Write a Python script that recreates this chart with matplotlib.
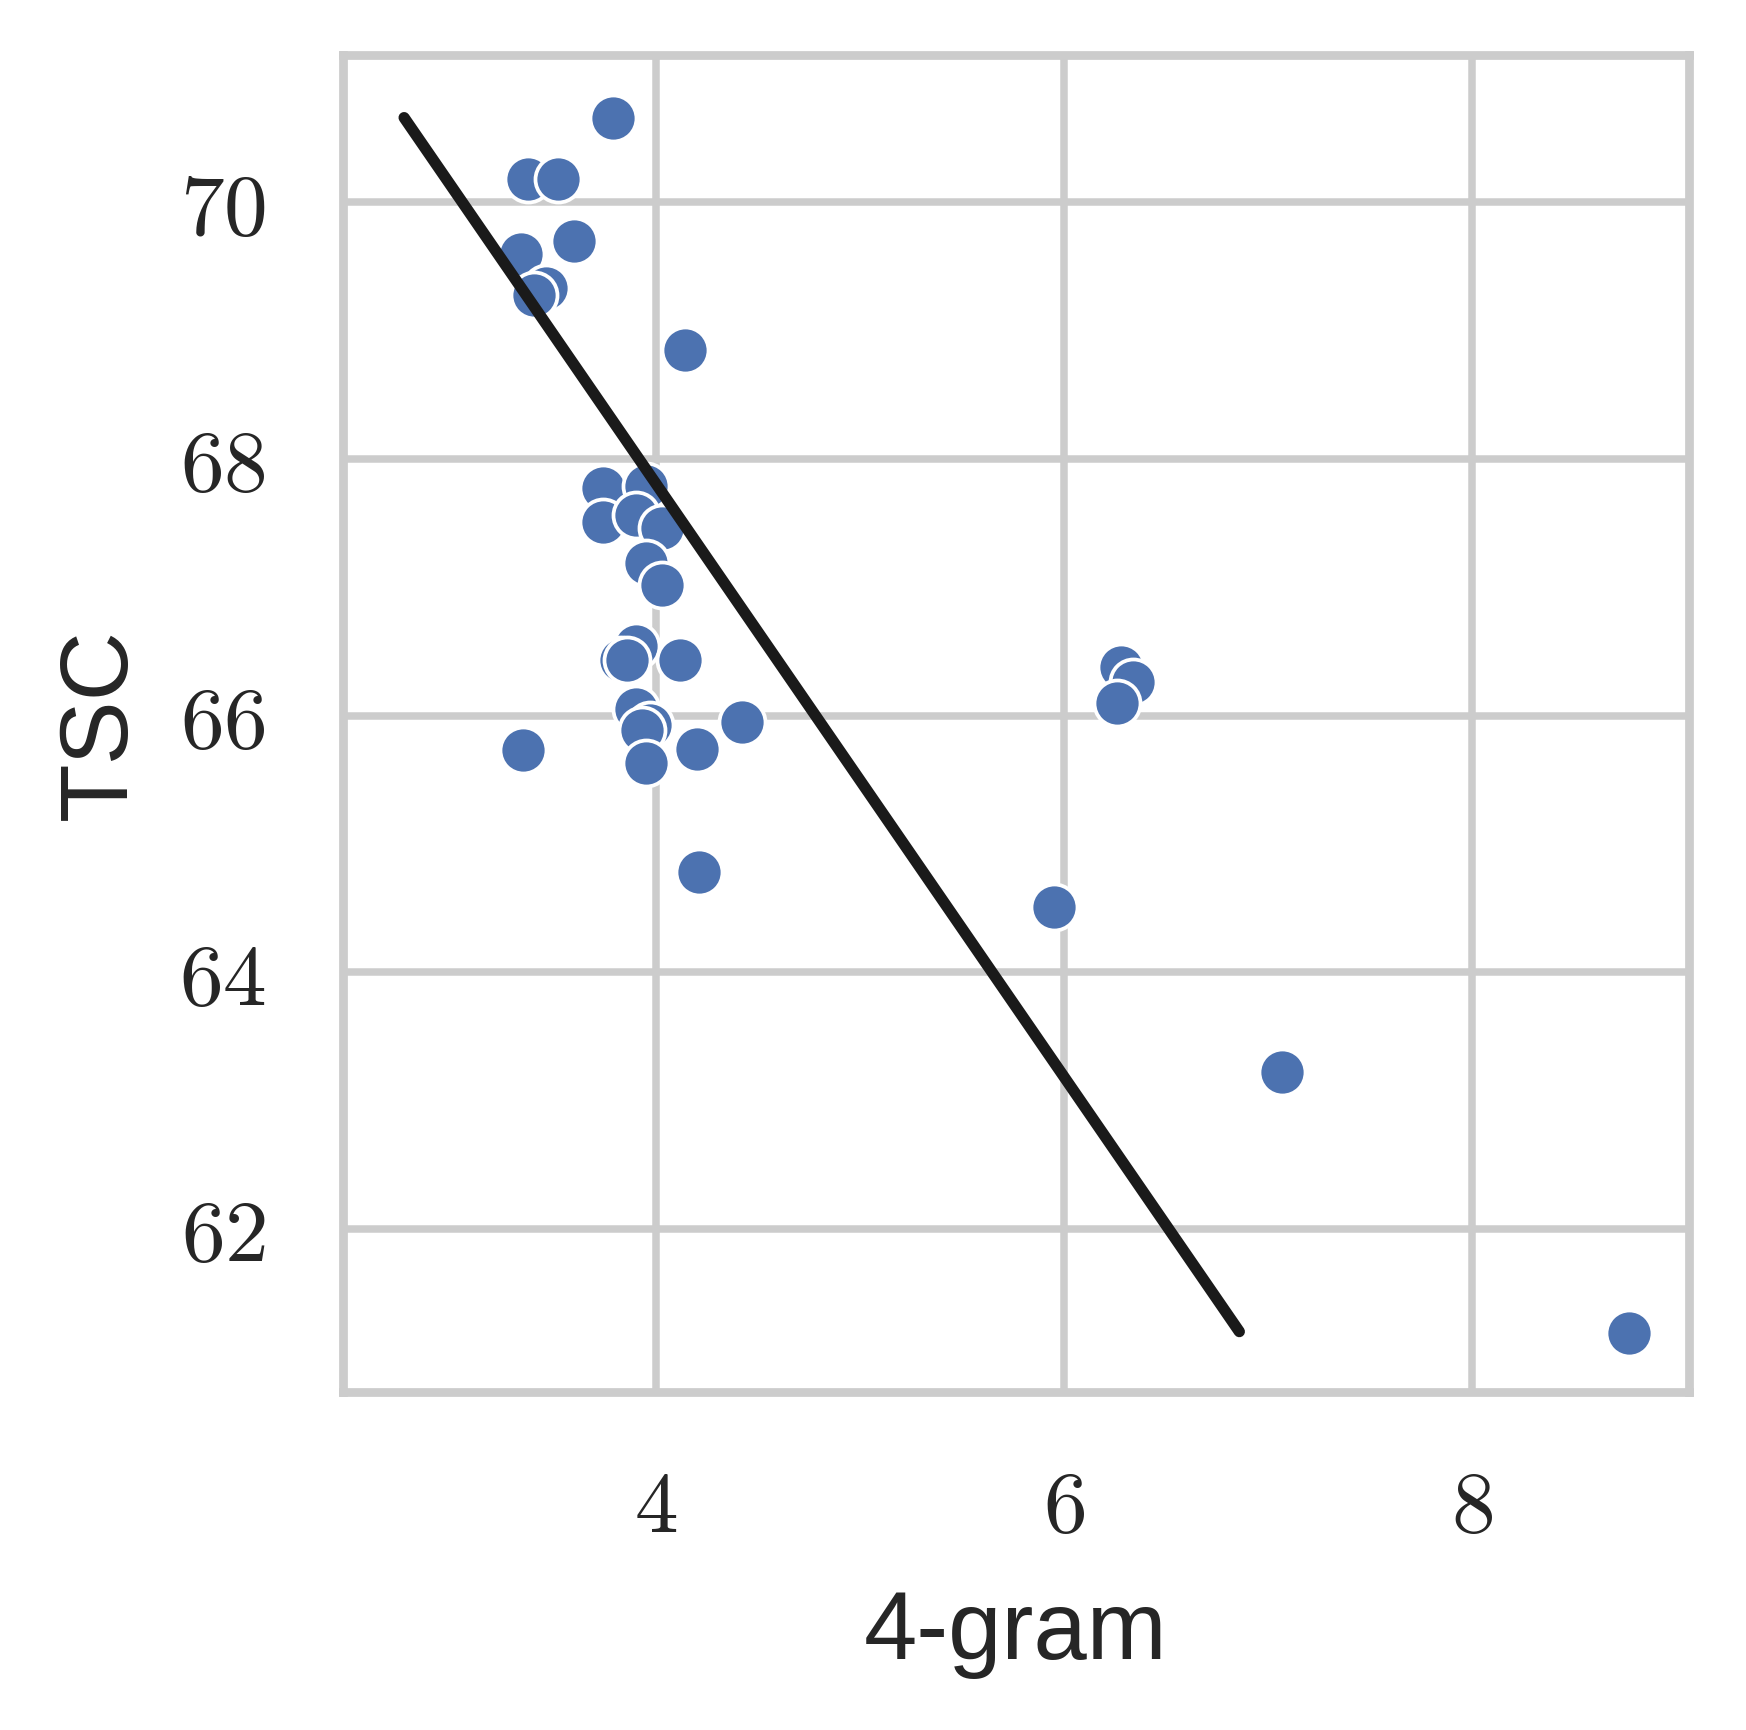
import matplotlib
matplotlib.use("Agg")
import matplotlib.pyplot as plt
from matplotlib.ticker import FuncFormatter

# 4-gram score vs TSC
ngram4 = [3.79, 3.37, 3.52, 3.60, 3.34, 3.46, 3.40, 4.14,
          3.74, 3.95, 3.74, 3.90, 4.03, 3.95, 4.03,
          3.90, 3.83, 3.86, 4.12, 3.90, 3.97, 3.93, 3.95, 4.20, 4.42,
          3.35, 4.21, 5.95, 7.07, 8.77,
          6.28, 6.34, 6.26]
tsc = [70.66, 70.18, 70.18, 69.70, 69.60, 69.33, 69.28, 68.85,
       67.77, 67.79, 67.51, 67.56, 67.46, 67.19, 67.02,
       66.54, 66.43, 66.43, 66.43, 66.05, 65.93, 65.89, 65.63, 65.74, 65.95,
       65.73, 64.78, 64.51, 63.22, 61.19,
       66.38, 66.26, 66.10]

# fitted line endpoints
fit_x = [2.765, 6.86]
fit_y = [70.66, 61.20]

plt.rcParams['mathtext.fontset'] = 'cm'
plt.rcParams['font.family'] = ['Liberation Sans', 'DejaVu Sans']

fig = plt.figure(figsize=(5.82, 5.77), dpi=300)
ax = fig.add_axes([0.1964, 0.1953, 0.771, 0.7725])

ax.scatter(ngram4, tsc, s=122, color='#4C72B0', edgecolor='white',
           linewidth=0.9, zorder=3)
ax.plot(fit_x, fit_y, color='#1a1a1a', linewidth=2.7,
        solid_capstyle='round', zorder=4)

ax.set_xlim(2.465, 9.065)
ax.set_ylim(60.73, 71.15)
ax.set_xticks([4, 6, 8])
ax.set_yticks([62, 64, 66, 68, 70])
ax.xaxis.set_major_formatter(FuncFormatter(lambda v, p: r'$%d$' % v))
ax.yaxis.set_major_formatter(FuncFormatter(lambda v, p: r'$%d$' % v))
ax.tick_params(length=0, labelsize=21, colors='#262626')
ax.tick_params(axis='y', pad=18.5)
ax.tick_params(axis='x', pad=18.2)

ax.grid(True, color='#cccccc', linewidth=1.8)
ax.set_axisbelow(True)
for s in ax.spines.values():
    s.set_color('#cccccc')
    s.set_linewidth(2.1)

ax.set_xlabel('4-gram', fontsize=23, color='#262626', labelpad=9.5)
ax.set_ylabel('TSC', fontsize=23, color='#262626', labelpad=8)

fig.savefig('out.png', dpi=300)
